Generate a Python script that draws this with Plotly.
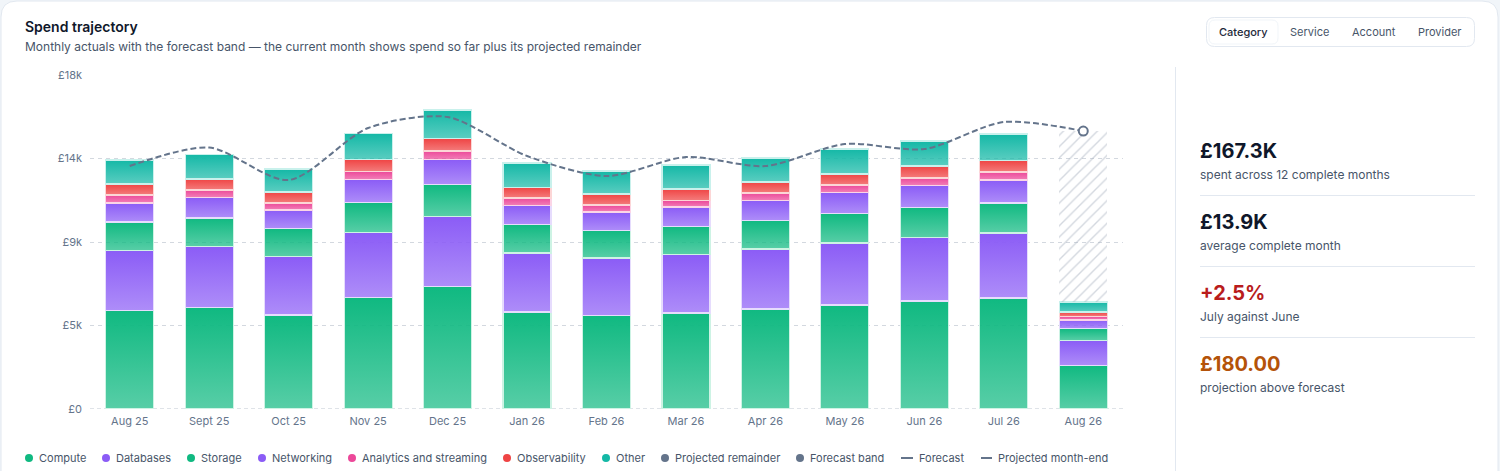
import plotly.graph_objects as go

months = ["Aug 25","Sept 25","Oct 25","Nov 25","Dec 25","Jan 26","Feb 26","Mar 26","Apr 26","May 26","Jun 26","Jul 26","Aug 26"]
compute = [5308,5470,5066,6009,6602,5227,5039,5173,5389,5605,5820,5982,2344]
databases = [3233,3287,3153,3503,3772,3180,3099,3153,3233,3341,3422,3503,1347]
storage = [1536,1536,1509,1617,1724,1536,1482,1509,1536,1590,1617,1617,647]
networking = [1024,1105,997,1239,1347,1024,997,1051,1078,1132,1186,1239,458]
analytics = [431,404,377,431,458,404,377,350,404,404,404,431,189]
observability = [593,593,593,647,674,566,593,620,593,593,647,620,243]
other = [1293,1320,1239,1401,1536,1320,1239,1293,1293,1347,1347,1428,539]
remainder = [None]*12 + [9215]
forecast = [13095,14092,12341,15143,15736,13634,12556,13580,13095,14281,14011,15466,14981]
projected_end = [None]*12 + [14981]
y_ticks = [0,4500,9000,13500,18000]
y_labels = ["£0","£5k","£9k","£14k","£18k"]
series_names = ["Compute","Databases","Storage","Networking","Analytics and streaming","Observability","Other"]
series_values = [compute,databases,storage,networking,analytics,observability,other]
series_colors = ["#10b981","#8b5cf6","#10b981","#8b5cf6","#ec4899","#ef4444","#14b8a6"]
edge_colors = ["#cdf3e4","#e6dcfd","#cdf3e4","#e6dcfd","#fbd5e6","#fcd6d6","#c9f1ec"]
legend_dots = [("Compute","#10b981"),("Databases","#8b5cf6"),("Storage","#10b981"),("Networking","#8b5cf6"),
               ("Analytics and streaming","#ec4899"),("Observability","#ef4444"),("Other","#14b8a6"),
               ("Projected remainder","#64748b"),("Forecast band","#64748b")]
legend_lines = ["Forecast","Projected month-end"]
kpis = [("£167.3K","spent across 12 complete months","#0f172a"),
        ("£13.9K","average complete month","#0f172a"),
        ("+2.5%","July against June","#b91c1c"),
        ("£180.00","projection above forecast","#b45309")]
tabs = ["Category","Service","Account","Provider"]

W, H = 1500, 471
FONT = "Inter"
X = lambda p: p / W
Y = lambda p: 1 - p / H

fig = go.Figure()
for n, v, c, e in zip(series_names, series_values, series_colors, edge_colors):
    fig.add_trace(go.Bar(x=months, y=v, name=n, marker=dict(color=c, line=dict(color=e, width=1.2))))
fig.add_trace(go.Bar(x=months, y=remainder, name="Projected remainder",
                     marker=dict(color="rgba(0,0,0,0)", line=dict(width=0),
                                 pattern=dict(shape="/", fgcolor="#a8b1bf", bgcolor="rgba(0,0,0,0)", size=8, solidity=0.17))))
fig.add_trace(go.Scatter(x=months, y=forecast, name="Forecast", mode="lines",
                         line=dict(color="#64748b", width=2, dash="6px,3px", shape="spline", smoothing=0.8)))
fig.add_trace(go.Scatter(x=months, y=projected_end, name="Projected month-end", mode="markers",
                         marker=dict(size=9, color="#ffffff", line=dict(color="#64748b", width=2))))

shapes, ann = [], []
def text(x, y, s, size=12, color="#475569", weight=400, anchor="left"):
    ann.append(dict(x=X(x - 1), y=Y(y), xref="paper", yref="paper", text=s, showarrow=False, xanchor=anchor,
                    yanchor="middle", borderpad=0, font=dict(family=FONT, size=size, color=color, weight=weight)))
def rrect(x0, y0, x1, y1, r, fill, line, w=1, layer="below"):
    p = (f"M {X(x0+r)} {Y(y0)} L {X(x1-r)} {Y(y0)} Q {X(x1)} {Y(y0)} {X(x1)} {Y(y0+r)} "
         f"L {X(x1)} {Y(y1-r)} Q {X(x1)} {Y(y1)} {X(x1-r)} {Y(y1)} L {X(x0+r)} {Y(y1)} "
         f"Q {X(x0)} {Y(y1)} {X(x0)} {Y(y1-r)} L {X(x0)} {Y(y0+r)} Q {X(x0)} {Y(y0)} {X(x0+r)} {Y(y0)} Z")
    shapes.append(dict(type="path", xref="paper", yref="paper", path=p, fillcolor=fill, line=dict(color=line, width=w), layer=layer))
def hline(x0, x1, y, color="#e2e8f0", w=1):
    shapes.append(dict(type="line", xref="paper", yref="paper", x0=X(x0), x1=X(x1), y0=Y(y), y1=Y(y), line=dict(color=color, width=w)))

rrect(1, 1, 1498, 500, 16, "#ffffff", "#e2e8f0")
text(25, 27, "Spend trajectory", 14, "#0f172a", 600)
text(25, 47, "Monthly actuals with the forecast band — the current month shows spend so far plus its projected remainder", 12, "#475569")

rrect(1206.5, 17.5, 1474.5, 46.5, 8, "#ffffff", "#e2e8f0")
rrect(1209, 20, 1278, 44, 6, "#ffffff", "#f1f5f9")
for s, cx, col, wt in zip(tabs, [1244.5, 1310, 1374.5, 1440.5], ["#1e293b", "#475569", "#475569", "#475569"], [500, 400, 400, 400]):
    text(cx, 32, s, 11, col, wt, "center")

shapes.append(dict(type="line", xref="paper", yref="paper", x0=X(1175.5), x1=X(1175.5), y0=Y(67), y1=Y(471), line=dict(color="#e2e8f0", width=1)))
for i, (v, s, c) in enumerate(kpis):
    text(1200, 151 + 71 * i, v, 20, c, 700)
    text(1200, 174.4 + 71 * i, s, 12, "#475569")
    if i < 3:
        hline(1200, 1475, 195.5 + 71 * i)

dot_x = [29, 106, 191, 262, 352, 507, 606, 665, 800]
for (s, c), cx in zip(legend_dots, dot_x):
    shapes.append(dict(type="circle", xref="paper", yref="paper", x0=X(cx-4), x1=X(cx+4), y0=Y(458-4), y1=Y(458+4), fillcolor=c, line=dict(width=0)))
    text(cx + 10, 458, s, 11, "#475569")
for s, (a, b) in zip(legend_lines, [(901, 913), (981, 992)]):
    hline(a, b, 458, "#64748b", 2)
    text(b + 6, 458, s, 11, "#475569")

# heavier dashed baseline at zero
shapes.append(dict(type="line", xref="x domain", yref="y", x0=0, x1=1, y0=0, y1=0, layer="below",
                   line=dict(color="#dfe3e8", width=2, dash="4px,3px")))

fig.update_layout(
    width=W, height=H, margin=dict(l=0, r=0, t=0, b=0, pad=0, autoexpand=False), autosize=False,
    paper_bgcolor="#f1f5f9", plot_bgcolor="rgba(0,0,0,0)",
    barmode="stack", bargap=0.396, showlegend=False, shapes=shapes, annotations=ann,
    font=dict(family=FONT),
    xaxis=dict(domain=[X(90), X(1123)], type="category", range=[-0.5, 12.5], autorange=False, automargin=False, showgrid=False, showline=False, zeroline=False, ticks="",
               tickfont=dict(family=FONT, size=11, color="#64748b"), ticklabelstandoff=4),
    yaxis=dict(domain=[Y(409), Y(75)], range=[0, 18000], automargin=False, tickvals=y_ticks, ticktext=y_labels, zeroline=False, showline=False,
               showgrid=True, gridcolor="#d3d8df", griddash="4px,4px", gridwidth=1, ticks="",
               tickfont=dict(family=FONT, size=11, color="#64748b"), ticklabelstandoff=7),
)

post = """
document.documentElement.style.margin='0';document.body.style.margin='0';document.body.style.padding='0';document.body.style.overflow='hidden';
var gd=document.getElementById('{plot_id}');
gd.style.position='fixed';gd.style.left='0';gd.style.top='0';gd.style.width='1500px';gd.style.height='471px';
var cols=%s;
Plotly.relayout(gd,{width:1500,height:471}).then(function(){
var svg=gd.querySelector('.main-svg');
var ns='http://www.w3.org/2000/svg';
var defs=svg.querySelector('defs')||svg.insertBefore(document.createElementNS(ns,'defs'),svg.firstChild);
gd.querySelectorAll('.barlayer .trace.bars').forEach(function(t,i){
  if(i>=cols.length)return;
  var g=document.createElementNS(ns,'linearGradient');g.setAttribute('id','bargrad'+i);
  g.setAttribute('x1','0');g.setAttribute('y1','0');g.setAttribute('x2','0');g.setAttribute('y2','1');
  [[0,1],[1,0.7]].forEach(function(s){var st=document.createElementNS(ns,'stop');st.setAttribute('offset',s[0]);
    st.setAttribute('stop-color',cols[i]);st.setAttribute('stop-opacity',s[1]);g.appendChild(st);});
  defs.appendChild(g);
  t.querySelectorAll('path').forEach(function(p){p.style.fill='url(#bargrad'+i+')';p.style.fillOpacity='1';});
});
});
""" % (str(series_colors))

fig.write_html("out.html", post_script=post, config=dict(displayModeBar=False, responsive=False), default_width="1500px", default_height="471px")
